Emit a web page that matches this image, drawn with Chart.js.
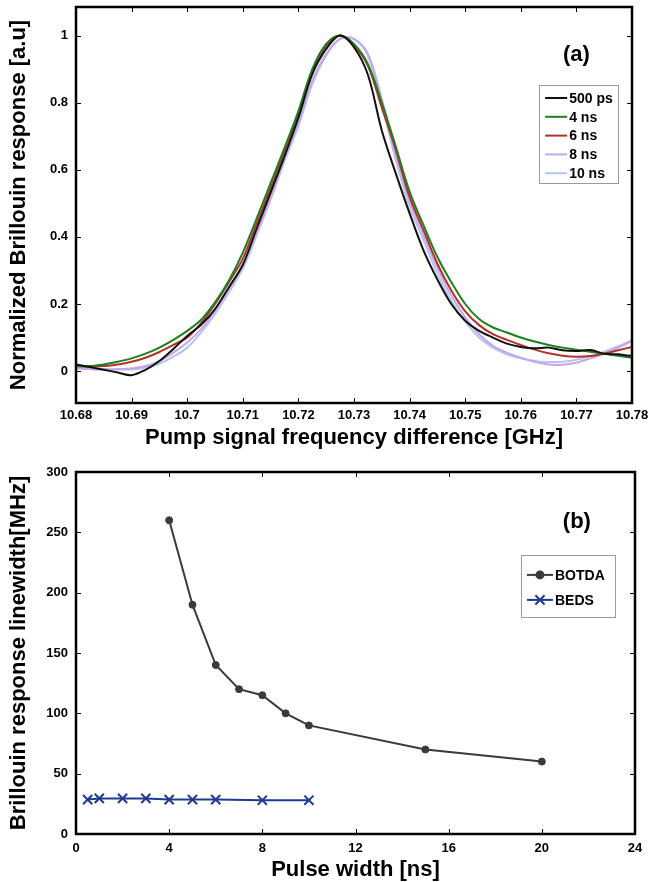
<!DOCTYPE html>
<html>
<head>
<meta charset="utf-8">
<script src="https://cdn.jsdelivr.net/npm/chart.js@4.4.0/dist/chart.umd.min.js"></script>
<style>
  body { margin: 0; background: #fff; width: 650px; height: 882px; overflow: hidden; }
  #boxA { position: absolute; left: 0; top: 0; width: 650px; height: 450px; }
  #boxB { position: absolute; left: 0; top: 450px; width: 650px; height: 432px; }
</style>
</head>
<body>
<div id="boxA"><canvas id="spectra"></canvas></div>
<div id="boxB"><canvas id="linewidth"></canvas></div>
<script>
// ---- panel (a): normalized Brillouin response vs frequency ----
var freqA = [10.68, 10.6825, 10.685, 10.6875, 10.69, 10.6925, 10.695, 10.6975, 10.70, 10.7025,
  10.705, 10.7075, 10.71, 10.7125, 10.715, 10.7175, 10.72, 10.7225, 10.725, 10.7275,
  10.73, 10.7325, 10.735, 10.7375, 10.74, 10.7425, 10.745, 10.7475, 10.75, 10.7525,
  10.755, 10.7575, 10.76, 10.7625, 10.765, 10.7675, 10.77, 10.7725, 10.775, 10.7775, 10.78];

var resp500ps = [0.02, 0.012, 0.004, -0.004, -0.012, 0.004, 0.03, 0.066, 0.105, 0.138,
  0.185, 0.25, 0.317, 0.425, 0.532, 0.64, 0.755, 0.885, 0.96, 1.0,
  0.965, 0.883, 0.717, 0.59, 0.47, 0.36, 0.273, 0.2, 0.15, 0.12,
  0.1, 0.082, 0.072, 0.068, 0.07, 0.062, 0.06, 0.063, 0.052, 0.05, 0.045];
var resp4ns = [0.015, 0.015, 0.02, 0.028, 0.038, 0.052, 0.07, 0.093, 0.12, 0.153,
  0.205, 0.27, 0.353, 0.455, 0.56, 0.665, 0.775, 0.9, 0.975, 1.0,
  0.975, 0.915, 0.8, 0.67, 0.535, 0.435, 0.34, 0.265, 0.2, 0.155,
  0.13, 0.115, 0.1, 0.088, 0.078, 0.07, 0.064, 0.058, 0.052, 0.046, 0.04];
var resp6ns = [0.015, 0.013, 0.015, 0.02, 0.028, 0.04, 0.057, 0.078, 0.1, 0.143,
  0.2, 0.265, 0.335, 0.44, 0.545, 0.655, 0.765, 0.895, 0.97, 1.0,
  0.97, 0.91, 0.785, 0.66, 0.519, 0.42, 0.32, 0.24, 0.178, 0.137,
  0.11, 0.093, 0.078, 0.064, 0.053, 0.046, 0.043, 0.045, 0.052, 0.062, 0.072];
var resp8ns = [0.008, 0.006, 0.005, 0.006, 0.008, 0.015, 0.03, 0.055, 0.085, 0.125,
  0.18, 0.245, 0.315, 0.415, 0.52, 0.635, 0.74, 0.865, 0.945, 0.99,
  0.99, 0.945, 0.81, 0.645, 0.507, 0.405, 0.307, 0.225, 0.16, 0.11,
  0.075, 0.055, 0.04, 0.028, 0.02, 0.019, 0.025, 0.038, 0.052, 0.07, 0.09];
var resp10ns = [0.012, 0.008, 0.006, 0.005, 0.005, 0.01, 0.022, 0.043, 0.07, 0.115,
  0.17, 0.235, 0.305, 0.405, 0.51, 0.625, 0.73, 0.855, 0.94, 0.99,
  0.99, 0.94, 0.795, 0.63, 0.49, 0.39, 0.29, 0.21, 0.148, 0.1,
  0.07, 0.05, 0.038, 0.03, 0.027, 0.028, 0.034, 0.045, 0.058, 0.074, 0.092];

var labelsA = ['500 ps', '4 ns', '6 ns', '8 ns', '10 ns'];
var colorsA = ['#111111', '#1f7f1f', '#b5302a', '#c6a6e6', '#b3c6f2'];
var xTicksA = [10.68, 10.69, 10.70, 10.71, 10.72, 10.73, 10.74, 10.75, 10.76, 10.77, 10.78];
var yTicksA = [0, 0.2, 0.4, 0.6, 0.8, 1];

// ---- panel (b): linewidth vs pulse width ----
var pulseBotda = [4, 5, 6, 7, 8, 9, 10, 15, 20];
var widthBotda = [260, 190, 140, 120, 115, 100, 90, 70, 60];
var pulseBeds = [0.5, 1, 2, 3, 4, 5, 6, 8, 10];
var widthBeds = [28.5, 29.5, 29.5, 29.5, 28.5, 28.5, 28.5, 28, 28];
var xTicksB = [0, 4, 8, 12, 16, 20, 24];
var yTicksB = [0, 50, 100, 150, 200, 250, 300];

var FONT = "'Liberation Sans', Arial, Helvetica, sans-serif";

function pts(xs, ys) {
  return xs.map(function(x, i) { return { x: x, y: ys[i] }; });
}

// frame, inward tick marks, panel tag and the boxed legend
var frameTicks = {
  id: 'frameTicks',
  afterDatasetsDraw: function(chart, args, opts) {
    var ctx = chart.ctx, a = chart.chartArea;
    var xs = chart.scales.x, ys = chart.scales.y;
    ctx.save();
    ctx.strokeStyle = '#000';
    ctx.lineWidth = 1;
    ctx.beginPath();
    xs.ticks.forEach(function(t) {
      var px = Math.round(xs.getPixelForValue(t.value)) + 0.5;
      ctx.moveTo(px, a.bottom); ctx.lineTo(px, a.bottom - 5);
      ctx.moveTo(px, a.top); ctx.lineTo(px, a.top + 5);
    });
    ys.ticks.forEach(function(t) {
      var py = Math.round(ys.getPixelForValue(t.value)) + 0.5;
      ctx.moveTo(a.left, py); ctx.lineTo(a.left + 5, py);
      ctx.moveTo(a.right, py); ctx.lineTo(a.right - 5, py);
    });
    ctx.stroke();
    ctx.lineWidth = 2.5;
    ctx.strokeRect(a.left, a.top, a.width, a.height);

    // (a) / (b)
    ctx.fillStyle = '#000';
    ctx.font = 'bold 22px ' + FONT;
    ctx.textAlign = 'center';
    ctx.textBaseline = 'middle';
    ctx.fillText(opts.tag, a.left + a.width * opts.tagX, a.top + a.height * opts.tagY);

    // legend
    var lx = a.left + a.width * opts.legX, ly = a.top + a.height * opts.legY;
    var ds = chart.data.datasets;
    ctx.lineWidth = 1;
    ctx.strokeStyle = '#9a9a9a';
    ctx.strokeRect(Math.round(lx) + 0.5, Math.round(ly) + 0.5, opts.legW, opts.legH);
    ctx.font = 'bold 14px ' + FONT;
    ctx.textAlign = 'left';
    ds.forEach(function(d, i) {
      var ry = ly + opts.legFirst + i * opts.legRow;
      ctx.strokeStyle = d.borderColor;
      ctx.lineWidth = d.borderWidth;
      ctx.beginPath();
      ctx.moveTo(lx + 6, ry); ctx.lineTo(lx + 6 + opts.legLine, ry);
      ctx.stroke();
      if (d.pointRadius > 0) {
        var mx = lx + 6 + opts.legLine / 2;
        ctx.fillStyle = d.borderColor;
        Chart.helpers.drawPoint(ctx, {
          pointStyle: d.pointStyle, radius: d.pointRadius, borderWidth: d.pointBorderWidth || 1
        }, mx, ry);
      }
      ctx.fillStyle = '#000';
      ctx.fillText(d.label, lx + 8 + opts.legLine, ry + 1);
    });
    ctx.restore();
  }
};

function axisFont(size) { return { family: FONT, size: size, weight: 'bold' }; }
function fixY(w) { return function(s) { s.width = w; s.paddingTop = 0; s.paddingBottom = 0; }; }
function fixX(h) { return function(s) { s.height = h; s.paddingLeft = 0; s.paddingRight = 0; }; }

var ctxA = document.getElementById('spectra');
var chartA = new Chart(ctxA, {
  type: 'line',
  data: {
    datasets: [resp500ps, resp4ns, resp6ns, resp8ns, resp10ns].map(function(s, i) {
      return {
        label: labelsA[i],
        data: pts(freqA, s),
        borderColor: colorsA[i],
        backgroundColor: colorsA[i],
        borderWidth: 2,
        pointRadius: 0,
        tension: 0.35,
        fill: false
      };
    })
  },
  options: {
    animation: false,
    responsive: true,
    maintainAspectRatio: false,
    devicePixelRatio: 1,
    layout: { padding: { top: 7, right: 18, left: 0, bottom: 0 } },
    plugins: {
      legend: { display: false },
      tooltip: { enabled: false },
      frameTicks: {
        tag: '(a)', tagX: 0.9, tagY: 0.122,
        legX: 0.833, legY: 0.197, legW: 79, legH: 98, legFirst: 13, legRow: 18.8, legLine: 22
      }
    },
    scales: {
      x: {
        type: 'linear', min: 10.68, max: 10.78,
        afterBuildTicks: function(s) { s.ticks = xTicksA.map(function(v) { return { value: v }; }); },
        afterFit: fixX(47),
        grid: { display: false, drawTicks: false },
        border: { display: false },
        ticks: { color: '#000', font: axisFont(13), padding: 5, maxRotation: 0,
          callback: function(v) { return String(+v.toFixed(3)); } },
        title: { display: true, text: 'Pump signal frequency difference [GHz]', color: '#000',
          font: { family: FONT, size: 22, weight: 'bold', lineHeight: 1 }, padding: { top: 0, bottom: 1 } }
      },
      y: {
        type: 'linear', min: -0.095, max: 1.085,
        afterBuildTicks: function(s) { s.ticks = yTicksA.map(function(v) { return { value: v }; }); },
        afterFit: fixY(76),
        grid: { display: false, drawTicks: false },
        border: { display: false },
        ticks: { color: '#000', font: axisFont(13), padding: 8,
          callback: function(v) { return String(+v.toFixed(2)); } },
        title: { display: true, text: 'Normalized Brillouin response [a.u]', color: '#000',
          font: { family: FONT, size: 22, weight: 'bold', lineHeight: 1 }, padding: { top: 8, bottom: 0 } }
      }
    }
  },
  plugins: [frameTicks]
});

var ctxB = document.getElementById('linewidth');
var chartB = new Chart(ctxB, {
  type: 'line',
  data: {
    datasets: [
      {
        label: 'BOTDA',
        data: pts(pulseBotda, widthBotda),
        borderColor: '#3a3a3a',
        backgroundColor: '#3a3a3a',
        borderWidth: 2,
        pointStyle: 'circle',
        pointRadius: 3.5,
        pointBorderWidth: 1,
        tension: 0
      },
      {
        label: 'BEDS',
        data: pts(pulseBeds, widthBeds),
        borderColor: '#1f3a8f',
        backgroundColor: '#1f3a8f',
        borderWidth: 2,
        pointStyle: 'crossRot',
        pointRadius: 6.5,
        pointBorderWidth: 2,
        tension: 0
      }
    ]
  },
  options: {
    animation: false,
    responsive: true,
    maintainAspectRatio: false,
    devicePixelRatio: 1,
    layout: { padding: { top: 22, right: 15, left: 0, bottom: 0 } },
    plugins: {
      legend: { display: false },
      tooltip: { enabled: false },
      frameTicks: {
        tag: '(b)', tagX: 0.896, tagY: 0.138,
        legX: 0.796, legY: 0.229, legW: 94, legH: 62, legFirst: 20, legRow: 25, legLine: 26
      }
    },
    scales: {
      x: {
        type: 'linear', min: 0, max: 24,
        afterBuildTicks: function(s) { s.ticks = xTicksB.map(function(v) { return { value: v }; }); },
        afterFit: fixX(48),
        grid: { display: false, drawTicks: false },
        border: { display: false },
        ticks: { color: '#000', font: axisFont(13), padding: 7, maxRotation: 0 },
        title: { display: true, text: 'Pulse width [ns]', color: '#000',
          font: { family: FONT, size: 22, weight: 'bold', lineHeight: 1 }, padding: { top: 0, bottom: 1 } }
      },
      y: {
        type: 'linear', min: 0, max: 300,
        afterBuildTicks: function(s) { s.ticks = yTicksB.map(function(v) { return { value: v }; }); },
        afterFit: fixY(76),
        grid: { display: false, drawTicks: false },
        border: { display: false },
        ticks: { color: '#000', font: axisFont(13), padding: 8 },
        title: { display: true, text: 'Brillouin response linewidth[MHz]', color: '#000',
          font: { family: FONT, size: 22, weight: 'bold', lineHeight: 1 }, padding: { top: 8, bottom: 0 } }
      }
    }
  },
  plugins: [frameTicks]
});
</script>
</body>
</html>
